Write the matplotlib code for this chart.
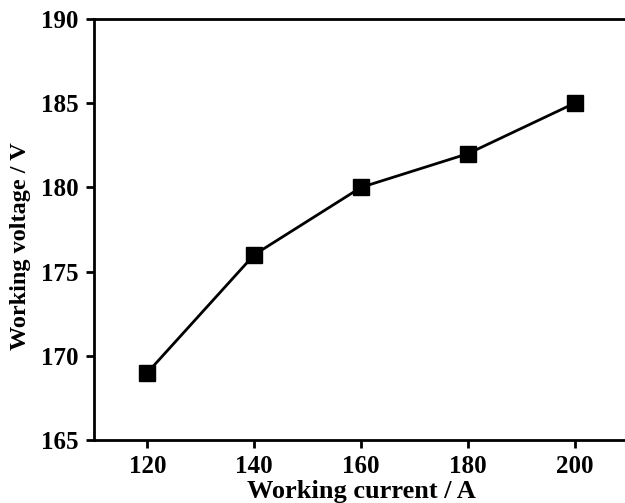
import matplotlib
matplotlib.use("Agg")
import matplotlib.pyplot as plt

# working current (A) vs. measured working voltage (V)
current = [120, 140, 160, 180, 200]
voltage = [169, 176, 180, 182, 185]

x_ticks = [120, 140, 160, 180, 200]
y_ticks = [165, 170, 175, 180, 185, 190]

plt.rcParams['font.family'] = ['Liberation Serif', 'DejaVu Serif']
plt.rcParams['font.weight'] = 'bold'

fig = plt.figure(figsize=(6.25, 5.03), dpi=100)
# right spine sits just outside the canvas
ax = fig.add_axes([94 / 625, 1 - 440 / 503, (628 - 94) / 625, (440 - 19) / 503])

ax.plot(current, voltage, color='black', lw=2, marker='s', markersize=11,
        markerfacecolor='black', markeredgecolor='black')

ax.set_xlim(110, 210)
ax.set_ylim(165, 190)
ax.set_xticks(x_ticks)
ax.set_yticks(y_ticks)

for side in ['top', 'bottom', 'left', 'right']:
    ax.spines[side].set_linewidth(2)

ax.tick_params(direction='out', length=6, width=2, labelsize=18, pad=5,
               top=False, right=False)
for lbl in ax.get_xticklabels() + ax.get_yticklabels():
    lbl.set_fontweight('bold')

ax.set_xlabel('Working current / A', fontsize=19, fontweight='bold', labelpad=1)
ax.set_ylabel('Working voltage / V', fontsize=17.5, fontweight='bold')
ax.yaxis.set_label_coords(-0.118, 0.461)

fig.savefig('out.png', dpi=100)
